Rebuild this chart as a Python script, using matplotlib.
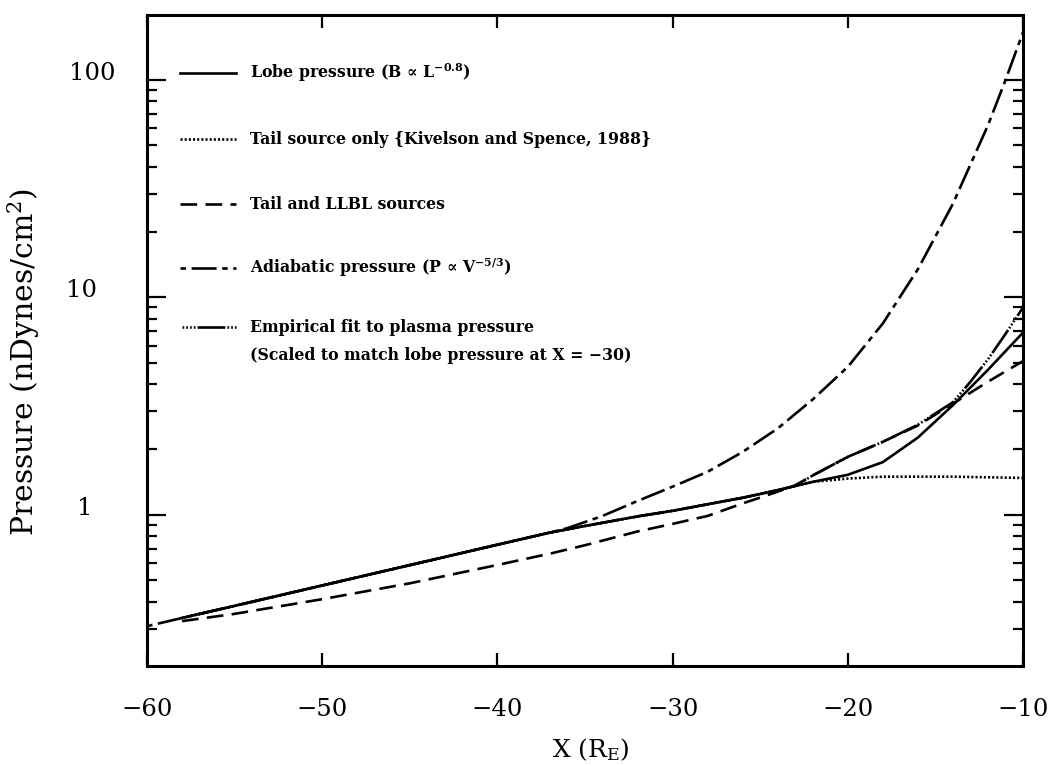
import matplotlib
matplotlib.use("Agg")
import matplotlib.pyplot as plt
from matplotlib.ticker import LogLocator, NullFormatter

plt.rcParams['font.family'] = ['DejaVu Serif']
plt.rcParams['mathtext.fontset'] = 'dejavuserif'
plt.rcParams['lines.scale_dashes'] = False

# ---- data ----
x_lobe = [-58, -55, -50, -45, -40, -37, -35, -32, -30, -28, -26, -24, -23, -22, -20, -18, -16, -14, -12, -10]
p_lobe = [0.336, 0.382, 0.474, 0.588, 0.730, 0.830, 0.89, 0.985, 1.045, 1.12, 1.20, 1.30, 1.36, 1.42, 1.53, 1.75, 2.27, 3.2, 4.65, 6.9]

x_tail = [-58, -55, -50, -45, -40, -37, -35, -32, -30, -28, -26, -24, -23, -22, -20, -18, -16, -14, -12, -10]
p_tail = [0.336, 0.382, 0.474, 0.588, 0.730, 0.830, 0.89, 0.985, 1.045, 1.12, 1.20, 1.30, 1.36, 1.42, 1.47, 1.50, 1.50, 1.50, 1.49, 1.48]

x_llbl = [-58, -55, -50, -45, -40, -37, -35, -32, -30, -28, -26, -24, -23, -22, -20, -18, -16, -14, -12, -10]
p_llbl = [0.325, 0.351, 0.41, 0.485, 0.589, 0.664, 0.726, 0.84, 0.91, 0.99, 1.13, 1.28, 1.37, 1.52, 1.85, 2.17, 2.58, 3.25, 4.1, 5.1]

x_adia = [-60, -58, -55, -50, -45, -40, -37, -36, -34, -32, -30, -28, -26, -24, -22, -20, -18, -16, -14, -12, -11, -10]
p_adia = [0.308, 0.336, 0.382, 0.474, 0.588, 0.730, 0.830, 0.87, 0.99, 1.16, 1.35, 1.58, 1.95, 2.5, 3.4, 4.8, 7.6, 13.5, 27, 62, 100, 166]

x_emp = [-58, -55, -50, -45, -40, -37, -35, -32, -30, -28, -26, -24, -23, -22, -20, -18, -16, -14, -13, -12, -11, -10]
p_emp = [0.336, 0.382, 0.474, 0.588, 0.730, 0.830, 0.89, 0.985, 1.045, 1.12, 1.20, 1.30, 1.36, 1.52, 1.85, 2.17, 2.6, 3.3, 4.1, 5.2, 6.8, 9.0]

legend_labels = [
    "Lobe pressure (B \u221d L$^{\\mathbf{-0.8}}$)",
    "Tail source only {Kivelson and Spence, 1988}",
    "Tail and LLBL sources",
    "Adiabatic pressure (P \u221d V$^{\\mathbf{-5/3}}$)",
    "Empirical fit to plasma pressure",
]
legend_extra = "(Scaled to match lobe pressure at X = \u221230)"

x_ticks = [-60, -50, -40, -30, -20, -10]
y_ticks = [1, 10, 100]
y_ticklabels = ["1", "10", "100"]

# ---- styles ----
lw = 1.9
styles = [
    dict(linestyle='-'),
    dict(linestyle=(0, (1.5, 1.5))),
    dict(linestyle=(0, (12, 6))),
    dict(linestyle=(0, (4, 4, 18, 4))),
    dict(linestyle=(20, (20, 1.5, 1.2, 1.5, 1.2, 1.5, 1.2, 1.5, 1.2, 1.5))),
]

fig = plt.figure(figsize=(10.51, 7.66), dpi=100)
ax = fig.add_axes([0.1399, 0.1305, 0.8335, 0.8499])

series = [(x_lobe, p_lobe), (x_tail, p_tail), (x_llbl, p_llbl), (x_adia, p_adia), (x_emp, p_emp)]
for (xs, ps), st in zip(series, styles):
    ax.plot(xs, ps, color='black', lw=lw, **st)

ax.set_yscale('log')
ax.set_xlim(-60, -10)
ax.set_ylim(0.202, 199)

ax.set_xticks(x_ticks)
ax.set_xticklabels([f"\u2212{abs(v)}" for v in x_ticks])
ax.set_yticks(y_ticks)
ax.set_yticklabels(y_ticklabels)
ax.yaxis.set_minor_locator(LogLocator(base=10, subs=[2, 3, 4, 5, 6, 7, 8, 9]))
ax.yaxis.set_minor_formatter(NullFormatter())

ax.tick_params(axis='x', which='major', direction='in', top=True, bottom=True,
               length=9.4, width=1.6, labelsize=17.5, pad=36)
ax.tick_params(axis='y', which='major', direction='in', left=True, right=True,
               length=13.7, width=1.6, labelsize=17.5)
ax.tick_params(axis='y', which='minor', direction='in', left=True, right=True,
               length=7.2, width=1.6)
for lab in ax.get_xticklabels():
    lab.set_verticalalignment('baseline')
ypads = [39.6, 36.0, 23.0]
for t, pd in zip(ax.yaxis.get_major_ticks(), ypads):
    t.set_pad(pd)
    t.label1.set_verticalalignment('baseline')
    t.label1.set_horizontalalignment('right')

for s in ax.spines.values():
    s.set_linewidth(2.2)

ax.set_xlabel("X (R$_\\mathrm{E}$)", fontsize=18)
ax.xaxis.set_label_coords(0.507, -0.108)
ax.set_ylabel("Pressure (nDynes/cm$^2$)", fontsize=21.5)
ax.yaxis.set_label_coords(-0.120, 0.467)

# ---- legend drawn inside the axes ----
rows_y = [0.911, 0.8095, 0.7097, 0.6114, 0.5207]
for yy, lab, st in zip(rows_y, legend_labels, styles):
    ax.plot([0.0377, 0.1016], [yy, yy], transform=ax.transAxes, color='black', lw=lw, **st)
    ax.text(0.1176, yy, lab, transform=ax.transAxes, fontsize=11.3, fontweight='bold',
            va='center', ha='left')
ax.text(0.1176, 0.4777, legend_extra, transform=ax.transAxes, fontsize=11.3,
        fontweight='bold', va='center', ha='left')

fig.savefig("out.png", dpi=100)
